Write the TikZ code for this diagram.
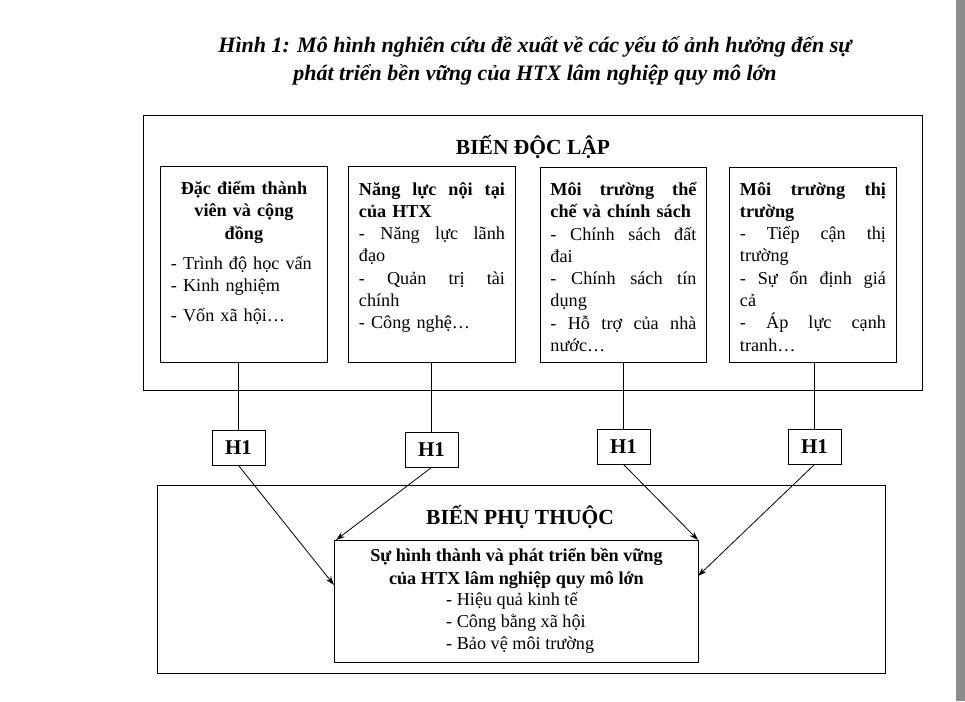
\documentclass[tikz,border=0pt]{standalone}
\usepackage{fontspec}
\setmainfont{Liberation Serif}
\usetikzlibrary{arrows.meta}
\begin{document}
\begin{tikzpicture}[x=1pt,y=-1pt,
  box/.style={draw,line width=0.9pt,anchor=north west,inner sep=0pt},
  txt/.style={anchor=north,text width=146pt,inner sep=0pt,align=left,font=\fontsize{18.2}{22.3}\selectfont},
  hbox/.style={draw,line width=0.9pt,minimum width=53pt,minimum height=35pt,inner sep=0pt,font=\fontsize{21}{22}\selectfont\bfseries},
  ln/.style={line width=0.8pt},
  arr/.style={line width=0.8pt,-{Stealth[length=9pt,width=6pt]}}]
\useasboundingbox (0,0) rectangle (965,701);
\fill[white] (0,0) rectangle (965,701);
\fill[black!45] (956,0) rectangle (965,701);
\node[font=\fontsize{22}{28}\selectfont\bfseries\itshape,align=center] (title) at (535,61)
 {Hình 1: Mô hình nghiên cứu đề xuất về các yếu tố ảnh hưởng đến sự\\phát triển bền vững của HTX lâm nghiệp quy mô lớn};
% outer box 1
\node[box,minimum width=779pt,minimum height=275pt] (ob1) at (143,115) {};
\node[font=\fontsize{21.5}{22}\selectfont\bfseries] (t1) at (533,147) {BIẾN ĐỘC LẬP};
\node[box,minimum width=167pt,minimum height=196pt] (b1) at (160,166) {};
\node[box,minimum width=167pt,minimum height=196pt] (b2) at (348,166) {};
\node[box,minimum width=166pt,minimum height=195pt] (b3) at (540,167) {};
\node[box,minimum width=167pt,minimum height=195pt] (b4) at (729,167) {};
\node[txt] (x1) at ([yshift=-15pt]b1.north) {\centering\bfseries Đặc điểm thành\\viên và cộng\\đồng\par\vspace{8pt}\raggedright\mdseries
 - Trình độ học vấn\\- Kinh nghiệm\\[8pt]- Vốn xã hội…};
\node[txt] (x2) at ([yshift=-16pt]b2.north) {\bfseries Năng\hfill lực\hfill nội\hfill tại\\của HTX\\\mdseries
 -\hfill Năng\hfill lực\hfill lãnh\\đạo\\-\hfill Quản\hfill trị\hfill tài\\chính\\- Công nghệ…};
\node[txt] (x3) at ([yshift=-15pt]b3.north) {\bfseries Môi\hfill trường\hfill thể\\chế và chính sách\\\mdseries
 -\hfill Chính\hfill sách\hfill đất\\đai\\-\hfill Chính\hfill sách\hfill tín\\dụng\\-\hfill Hỗ\hfill trợ\hfill của\hfill nhà\\nước…};
\node[txt] (x4) at ([yshift=-15pt]b4.north) {\bfseries Môi\hfill trường\hfill thị\\trường\\\mdseries
 -\hfill Tiếp\hfill cận\hfill thị\\trường\\-\hfill Sự\hfill ổn\hfill định\hfill giá\\cả\\-\hfill Áp\hfill lực\hfill cạnh\\tranh…};
% H1 boxes
\node[hbox] (h1) at (238.5,447.5) {H1};
\node[hbox] (h2) at (431.5,449.5) {H1};
\node[hbox] (h3) at (623.5,446.5) {H1};
\node[hbox] (h4) at (814.5,446.5) {H1};
\draw[ln] (b1.south -| h1.north) -- (h1.north);
\draw[ln] (b2.south -| h2.north) -- (h2.north);
\draw[ln] (b3.south -| h3.north) -- (h3.north);
\draw[ln] (b4.south -| h4.north) -- (h4.north);
% outer box 2
\node[box,minimum width=728pt,minimum height=188pt] (ob2) at (157,485) {};
\node[font=\fontsize{21.5}{22}\selectfont\bfseries] (t2) at (520,517) {BIẾN PHỤ THUỘC};
\node[box,minimum width=364pt,minimum height=122pt] (d) at (334,540) {};
\node[anchor=north,inner sep=0pt,align=center,font=\fontsize{18.2}{23}\selectfont] (dt) at ([yshift=-8pt]d.north)
 {\bfseries Sự hình thành và phát triển bền vững\\\bfseries của HTX lâm nghiệp quy mô lớn};
\node[anchor=north west,inner sep=0pt,align=left,font=\fontsize{18.2}{22}\selectfont] (dl) at (446,592)
 {- Hiệu quả kinh tế\\- Công bằng xã hội\\- Bảo vệ môi trường};
\coordinate (e1) at (334,585);
\coordinate (e2) at (336,540);
\coordinate (e3) at (698,540);
\coordinate (e4) at (698,576);
\draw[arr] (h1.south) -- (e1);
\draw[arr] (h2.south) -- (e2);
\draw[arr] (h3.south) -- (e3);
\draw[arr] (h4.south) -- (e4);
\end{tikzpicture}
\end{document}
